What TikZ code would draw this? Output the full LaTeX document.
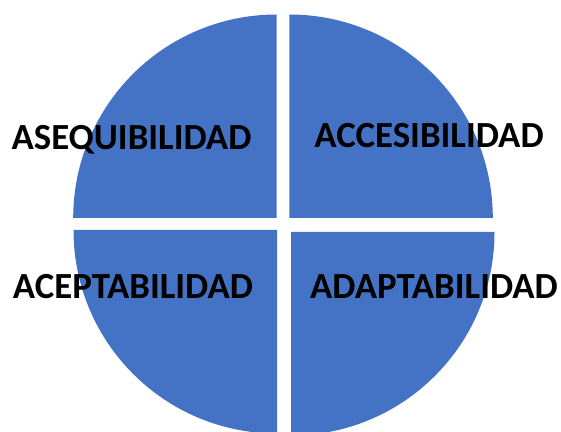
\documentclass[tikz,border=0pt]{standalone}
\usepackage{fontspec}
\setmainfont{Carlito}
\definecolor{qblue}{HTML}{4472C4}
\tikzset{
  quad/.style={fill=qblue},
  lbl/.style={anchor=base, inner sep=0pt, font=\fontsize{36.8}{36.8}\selectfont\bfseries, text=black}
}
\begin{document}
\begin{tikzpicture}[x=1pt,y=1pt]
\useasboundingbox (0,0) rectangle (561,431);
\clip (0,0) rectangle (561,431);
\fill[white] (0,0) rectangle (561,431);
\def\R{203.5}
\fill[quad] (276.7,213) -- ++(180:\R) arc[start angle=180,end angle=90,radius=\R] -- cycle;
\fill[quad] (289.3,213) -- ++(90:\R) arc[start angle=90,end angle=0,radius=\R] -- cycle;
\fill[quad] (277,201) -- ++(270:\R) arc[start angle=270,end angle=180,radius=\R] -- cycle;
\fill[quad] (291,199) -- ++(0:\R) arc[start angle=0,end angle=-90,radius=\R] -- cycle;
\node[lbl] (asequibilidad) at (131.5,281.7) {ASEQUIBILIDAD};
\node[lbl] (accesibilidad) at (429,283.3) {ACCESIBILIDAD};
\node[lbl] (aceptabilidad) at (133,132.7) {ACEPTABILIDAD};
\node[lbl] (adaptabilidad) at (434,132.7) {ADAPTABILIDAD};
\end{tikzpicture}
\end{document}
